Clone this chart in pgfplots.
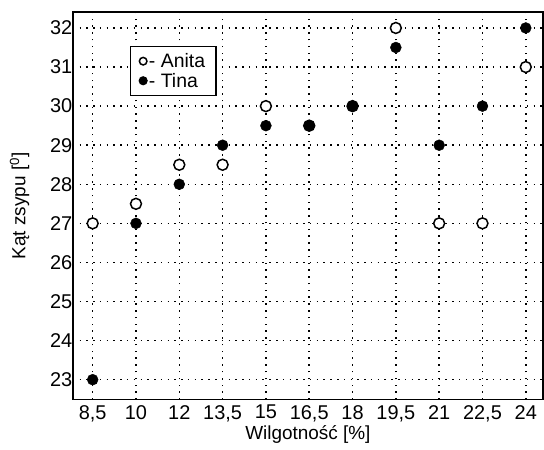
\documentclass[border=0pt]{standalone}
\usepackage{fontspec}
\setmainfont{Liberation Sans}
\usepackage{pgfplots}
\pgfplotsset{compat=1.18}

\begin{document}
\begin{tikzpicture}
\begin{axis}[
  scale only axis,
  width=472pt,
  height=389pt,
  xmin=-0.46, xmax=10.4,
  ymin=22.49, ymax=32.41,
  xtick={0,...,10},
  xticklabels={{8,5},{10},{12},{13,5},{15},{16,5},{18},{19,5},{21},{22,5},{24}},
  ytick={23,...,32},
  major tick length=0pt,
  /pgf/number format/assume math mode=true,
  tick label style={font=\fontsize{20}{22}\selectfont},
  xticklabel style={yshift=-2pt},
  yticklabel style={xshift=3pt},
  xmajorgrids, ymajorgrids,
  grid style={black, line width=1.5pt, dash pattern=on 1.5pt off 5.3pt},
  axis line style={line width=1.8pt},
  xlabel={Wilgotność [\%]},
  ylabel={Kąt zsypu [\textsuperscript{0}]},
  label style={font=\fontsize{19}{21}\selectfont},
  xlabel style={yshift=3pt},
  ylabel style={yshift=14pt},
  clip=false,
  legend style={at={(0.121,0.913)}, anchor=north west, draw=black, line width=1.5pt,
    font=\fontsize{19.5}{21}\selectfont, inner xsep=9pt, inner ysep=5pt,
    row sep=0pt, /tikz/every even column/.append style={column sep=0pt}},
  legend cell align=left,
  legend image post style={mark size=3.8pt},
  legend image code/.code={\draw[mark repeat=1,mark phase=1,#1] plot coordinates {(0.25cm,0cm)};},
]
\addplot[only marks, mark=*, mark size=5.5pt, mark options={fill=white, draw=black, line width=1.5pt}]
  coordinates {(0,27) (1,27.5) (2,28.5) (3,28.5) (4,30) (5,29.5) (6,30) (7,32) (8,27) (9,27) (10,31)};
\addplot[only marks, mark=*, mark size=5.5pt, mark options={fill=black, draw=black}]
  coordinates {(0,23) (1,27) (2,28) (3,29) (4,29.5) (5,29.5) (6,30) (7,31.5) (8,29) (9,30) (10,32)};
\legend{- Anita, - Tina}
\end{axis}
\path[use as bounding box] ([xshift=-73pt,yshift=-50pt]current axis.south west) rectangle ([yshift=12pt]current axis.north east);
\end{tikzpicture}
\end{document}
